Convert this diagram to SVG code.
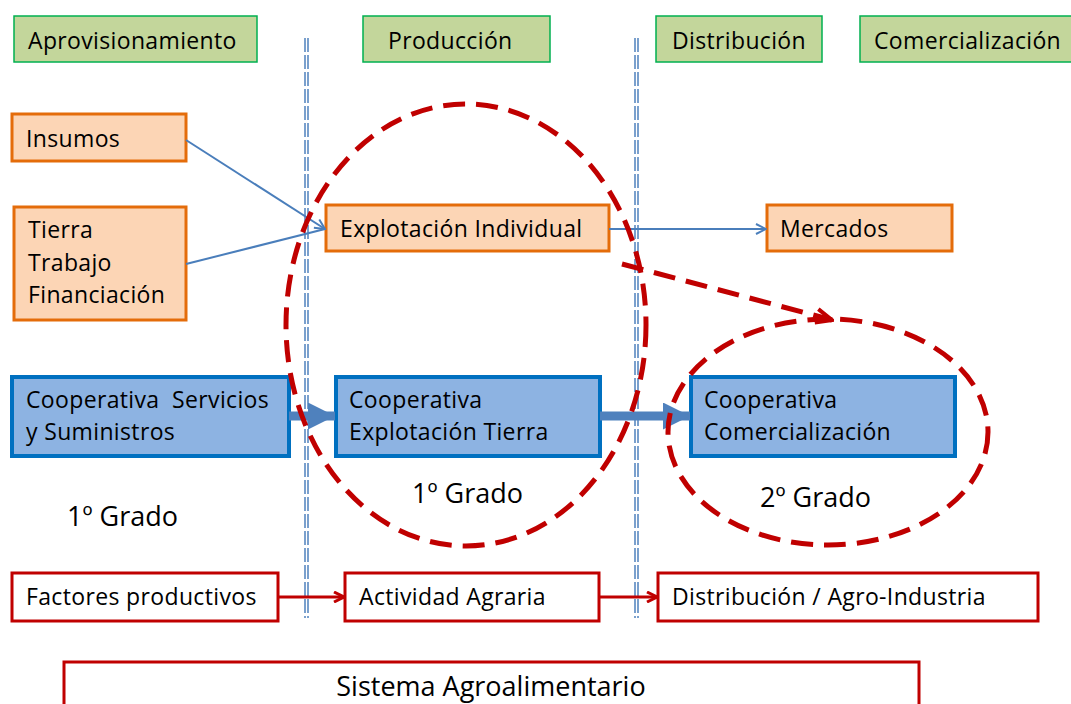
<svg xmlns="http://www.w3.org/2000/svg" width="1071" height="704" viewBox="0 0 1071 704">
<defs>
<style>
text{font-family:"Open Sans","Noto Sans","Liberation Sans",sans-serif;font-size:23px;fill:#000;letter-spacing:0.35px}
.big{font-size:27px;letter-spacing:0}
.g{fill:#c3d69b;stroke:#00b050;stroke-width:1.5}
.o{fill:#fcd5b5;stroke:#e46c0a;stroke-width:3}
.b{fill:#8db3e2;stroke:#0070c0;stroke-width:4}
.r{fill:#fff;stroke:#c00000;stroke-width:3}
.sep{stroke:#4f81bd;stroke-width:1.5;stroke-dasharray:14 3;fill:none}
.thin{stroke:#4a7ebb;stroke-width:2;fill:none}
.thick{stroke:#4f81bd;stroke-width:9;fill:none}
.rl{stroke:#c00000;stroke-width:3;fill:none}
.dash{stroke:#c00000;stroke-width:5;stroke-dasharray:22 11;fill:none}
</style>
<marker id="aBlue" viewBox="0 0 12 12" refX="11" refY="6" markerWidth="12" markerHeight="12" markerUnits="userSpaceOnUse" orient="auto"><path d="M1,1 L11,6 L1,11" fill="none" stroke="#4a7ebb" stroke-width="2"/></marker>
<marker id="aThick" viewBox="0 0 10 10" refX="10" refY="5" markerWidth="3.2" markerHeight="3" orient="auto"><path d="M0,0 L10,5 L0,10 Z" fill="#4f81bd"/></marker>
<marker id="aRed" viewBox="0 0 12 12" refX="11" refY="6" markerWidth="12" markerHeight="12" markerUnits="userSpaceOnUse" orient="auto"><path d="M1,1 L11,6 L1,11" fill="none" stroke="#c00000" stroke-width="3"/></marker>
<marker id="aRedD" viewBox="0 0 20 20" refX="18" refY="10" markerWidth="20" markerHeight="20" markerUnits="userSpaceOnUse" orient="auto"><path d="M2,3 L18,10 L2,17" fill="none" stroke="#c00000" stroke-width="4"/></marker>
</defs>
<rect width="1071" height="704" fill="#fff"/>

<g id="separators">
<path class="sep" d="M305,38 V618 M308,38 V618"/>
<path class="sep" d="M635,38 V618 M638,38 V618"/>
</g>

<g id="h-aprov"><rect class="g" x="14" y="16" width="243" height="46"/><text x="28" y="49">Aprovisionamiento</text></g>
<g id="h-prod"><rect class="g" x="363" y="16" width="187" height="46"/><text x="388" y="49">Producción</text></g>
<g id="h-dist"><rect class="g" x="656" y="16" width="166" height="46"/><text x="672" y="49">Distribución</text></g>
<g id="h-com"><rect class="g" x="860" y="16" width="212" height="46"/><text x="874" y="49">Comercialización</text></g>

<g id="n-insumos"><rect class="o" x="12" y="114" width="174" height="47"/><text x="26" y="147">Insumos</text></g>
<g id="n-tierra"><rect class="o" x="14" y="207" width="172" height="113"/><text x="28" y="238">Tierra</text><text x="28" y="271">Trabajo</text><text x="28" y="303">Financiación</text></g>
<g id="n-explot"><rect class="o" x="326" y="205" width="283" height="46"/><text x="340" y="237">Explotación Individual</text></g>
<g id="n-mercados"><rect class="o" x="767" y="205" width="185" height="46"/><text x="780" y="237">Mercados</text></g>

<g id="n-coop1"><rect class="b" x="12" y="377" width="277" height="79"/><text x="26" y="408" xml:space="preserve">Cooperativa  Servicios</text><text x="26" y="440">y Suministros</text></g>
<g id="n-coop2"><rect class="b" x="336" y="377" width="264" height="79"/><text x="349" y="408">Cooperativa</text><text x="349" y="440">Explotación Tierra</text></g>
<g id="n-coop3"><rect class="b" x="691" y="377" width="264" height="79"/><text x="704" y="408">Cooperativa</text><text x="704" y="440">Comercialización</text></g>

<g id="labels">
<text class="big" x="67" y="526">1º Grado</text>
<text class="big" x="412" y="503">1º Grado</text>
<text class="big" x="760" y="507">2º Grado</text>
</g>

<g id="n-factores"><rect class="r" x="12" y="573" width="266" height="48"/><text x="26" y="605">Factores productivos</text></g>
<g id="n-actividad"><rect class="r" x="345" y="573" width="254" height="48"/><text x="359" y="605">Actividad Agraria</text></g>
<g id="n-distagro"><rect class="r" x="658" y="573" width="380" height="48"/><text x="672" y="605">Distribución / Agro-Industria</text></g>
<g id="n-sistema"><rect class="r" x="64" y="662" width="855" height="60"/><text class="big" x="491" y="696" text-anchor="middle">Sistema Agroalimentario</text></g>

<g id="connectors">
<path class="thin" d="M186,140 L325,229" marker-end="url(#aBlue)"/>
<path class="thin" d="M186,264 L325,229"/>
<path class="thin" d="M609,229 L766,229" marker-end="url(#aBlue)"/>
<path class="thick" d="M289,416 L335,416" marker-end="url(#aThick)"/>
<path class="thick" d="M600,416 L690,416" marker-end="url(#aThick)"/>
<path class="rl" d="M278,597 L344,597" marker-end="url(#aRed)"/>
<path class="rl" d="M599,597 L657,597" marker-end="url(#aRed)"/>
<path class="dash" d="M622,264 L832,320" marker-end="url(#aRedD)"/>
</g>

<g id="ellipses">
<ellipse class="dash" cx="466" cy="325" rx="180" ry="221"/>
<ellipse class="dash" cx="828" cy="432" rx="160" ry="113"/>
</g>
</svg>
